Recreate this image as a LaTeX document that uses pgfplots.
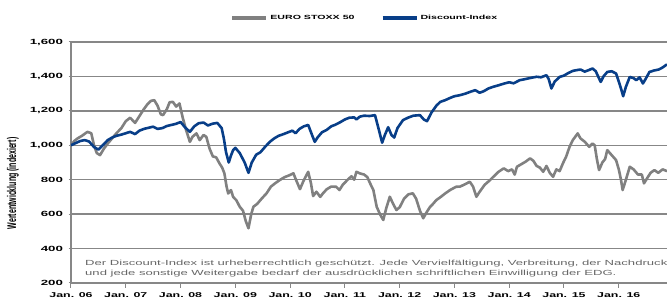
\documentclass[border=0pt]{standalone}
\usepackage{fontspec}
\setmainfont{Liberation Sans}[FakeStretch=1.77]
\newfontfamily\plainsans{Liberation Sans}
\usepackage{graphicx}
\usepackage{pgfplots}
\pgfplotsset{compat=1.18}
\definecolor{dblue}{RGB}{8,62,136}
\definecolor{sgray}{RGB}{128,128,128}
\definecolor{ggray}{RGB}{135,135,135}
\begin{document}
\begin{tikzpicture}
\useasboundingbox (-71pt,-24pt) rectangle (596pt,283pt);
\begin{axis}[
  at={(0pt,0pt)}, anchor=south west,
  scale only axis, width=596pt, height=241pt,
  xmin=2006, xmax=2016.88, ymin=200, ymax=1600,
  axis x line*=bottom, axis y line*=left,
  axis line style={ggray, line width=1.6pt},
  xtick={2006,...,2016},
  xticklabels={Jan. 06,Jan. 07,Jan. 08,Jan. 09,Jan. 10,Jan. 11,Jan. 12,Jan. 13,Jan. 14,Jan. 15,Jan. 16},
  ytick={200,400,...,1600},
  ymajorgrids, major grid style={ggray, line width=1.5pt},
  xtick align=outside, ytick align=center,
  major tick length=5pt,
  every tick/.style={ggray, line width=1pt},
  /pgf/number format/assume math mode=true,
  /pgf/number format/1000 sep={,},
  yticklabel style={font=\bfseries\fontsize{7.5}{8}\selectfont, anchor=east, xshift=-2pt},
  xticklabel style={font=\bfseries\fontsize{7}{8}\selectfont, anchor=north, yshift=-1pt},
  ylabel={\plainsans\bfseries\fontsize{7}{8}\selectfont\scalebox{1}[1.8]{Wertentwicklung (indexiert)}},
  ylabel style={at={(axis description cs:-0.0973,0.413)}, anchor=center},
  legend style={at={(axis description cs:0.493,1.0996)}, anchor=center, draw=none, fill=none,
    font=\bfseries\fontsize{6}{7}\selectfont, legend columns=2,
    /tikz/every even column/.append style={column sep=24pt}},
  legend image code/.code={\draw[#1, line width=4pt, line cap=butt] (0pt,0pt) -- (34pt,0pt);},
  clip=true,
]
\addplot[sgray, line width=2.6pt, line join=round] coordinates {
(2006.00,1000) (2006.06,1025) (2006.12,1040) (2006.20,1055) (2006.30,1078) (2006.37,1070)
(2006.42,1000) (2006.47,955) (2006.53,943) (2006.60,980) (2006.67,1010) (2006.75,1040)
(2006.83,1070) (2006.92,1100) (2007.00,1140) (2007.08,1160) (2007.17,1130) (2007.25,1170)
(2007.33,1210) (2007.40,1240) (2007.46,1258) (2007.52,1262) (2007.58,1230) (2007.64,1180)
(2007.68,1175) (2007.75,1210) (2007.80,1250) (2007.86,1252) (2007.92,1225) (2007.98,1243)
(2008.04,1160) (2008.10,1090) (2008.17,1020) (2008.22,1050) (2008.29,1069) (2008.35,1030)
(2008.42,1060) (2008.47,1049) (2008.53,980) (2008.59,935) (2008.65,930) (2008.71,895)
(2008.76,870) (2008.80,837) (2008.84,760) (2008.87,720) (2008.92,740) (2008.96,700)
(2009.02,680) (2009.08,643) (2009.14,620) (2009.19,560) (2009.24,518) (2009.29,600)
(2009.33,643) (2009.40,660) (2009.48,690) (2009.57,721) (2009.65,760) (2009.73,780)
(2009.81,798) (2009.90,815) (2009.98,825) (2010.06,837) (2010.12,790) (2010.18,745)
(2010.24,790) (2010.33,846) (2010.38,780) (2010.42,705) (2010.48,730) (2010.55,700)
(2010.60,721) (2010.67,745) (2010.75,760) (2010.84,759) (2010.90,740) (2010.96,770)
(2011.05,800) (2011.12,820) (2011.17,800) (2011.21,846) (2011.27,837) (2011.35,830)
(2011.41,815) (2011.46,779) (2011.52,740) (2011.58,643) (2011.64,600) (2011.70,566)
(2011.76,640) (2011.82,701) (2011.88,660) (2011.94,624) (2012.00,640) (2012.08,690)
(2012.16,715) (2012.24,721) (2012.30,690) (2012.37,620) (2012.43,576) (2012.49,610)
(2012.55,640) (2012.61,660) (2012.67,682) (2012.75,700) (2012.83,720) (2012.92,740)
(2013.03,759) (2013.10,760) (2013.17,770) (2013.28,788) (2013.34,760) (2013.40,701)
(2013.46,730) (2013.55,770) (2013.65,798) (2013.72,820) (2013.80,845) (2013.90,866)
(2013.98,850) (2014.05,860) (2014.10,830) (2014.14,875) (2014.22,890) (2014.30,905)
(2014.38,924) (2014.44,910) (2014.50,880) (2014.56,870) (2014.62,846) (2014.68,880)
(2014.74,840) (2014.80,817) (2014.86,860) (2014.92,850) (2014.98,895) (2015.04,935)
(2015.10,990) (2015.16,1030) (2015.25,1069) (2015.30,1040) (2015.38,1020) (2015.46,991)
(2015.52,1010) (2015.56,1000) (2015.60,920) (2015.64,856) (2015.70,900) (2015.75,920)
(2015.79,972) (2015.85,950) (2015.95,914) (2016.00,860) (2016.04,800) (2016.07,740)
(2016.12,790) (2016.20,875) (2016.27,860) (2016.35,830) (2016.42,830) (2016.46,779)
(2016.52,810) (2016.58,840) (2016.65,856) (2016.72,840) (2016.80,860) (2016.88,850)
};
\addlegendentry{EURO STOXX 50}
\addplot[dblue, line width=2.6pt, line join=round] coordinates {
(2006.00,1000) (2006.08,1012) (2006.17,1025) (2006.25,1030) (2006.33,1022) (2006.42,990)
(2006.50,975) (2006.58,1000) (2006.67,1030) (2006.75,1045) (2006.83,1055) (2006.92,1062)
(2007.00,1070) (2007.08,1078) (2007.17,1065) (2007.25,1085) (2007.33,1095) (2007.42,1102)
(2007.50,1108) (2007.58,1095) (2007.67,1100) (2007.75,1112) (2007.83,1118) (2007.92,1125)
(2008.00,1135) (2008.08,1105) (2008.17,1078) (2008.25,1110) (2008.33,1128) (2008.42,1132)
(2008.50,1115) (2008.58,1125) (2008.67,1130) (2008.75,1100) (2008.79,1040) (2008.83,960)
(2008.88,900) (2008.92,940) (2008.96,972) (2009.00,985) (2009.08,955) (2009.17,900)
(2009.24,840) (2009.30,900) (2009.38,945) (2009.46,960) (2009.54,990) (2009.63,1020)
(2009.71,1040) (2009.79,1055) (2009.88,1065) (2009.96,1075) (2010.04,1085) (2010.10,1070)
(2010.17,1095) (2010.25,1110) (2010.33,1118) (2010.40,1060) (2010.45,1020) (2010.50,1045)
(2010.58,1075) (2010.67,1090) (2010.75,1110) (2010.83,1120) (2010.92,1135) (2011.00,1150)
(2011.08,1160) (2011.17,1162) (2011.21,1150) (2011.27,1166) (2011.35,1172) (2011.45,1170)
(2011.55,1175) (2011.62,1090) (2011.68,1015) (2011.73,1060) (2011.79,1105) (2011.85,1060)
(2011.90,1045) (2011.96,1100) (2012.06,1146) (2012.15,1160) (2012.25,1172) (2012.37,1175)
(2012.44,1150) (2012.50,1140) (2012.58,1190) (2012.67,1230) (2012.74,1252) (2012.83,1262)
(2012.92,1275) (2013.00,1285) (2013.10,1291) (2013.20,1300) (2013.30,1312) (2013.38,1320)
(2013.46,1305) (2013.54,1315) (2013.62,1330) (2013.70,1339) (2013.80,1348) (2013.90,1358)
(2014.00,1366) (2014.08,1360) (2014.19,1378) (2014.30,1385) (2014.40,1392) (2014.50,1398)
(2014.58,1395) (2014.68,1407) (2014.72,1385) (2014.77,1330) (2014.83,1370) (2014.92,1397)
(2015.00,1405) (2015.08,1420) (2015.16,1432) (2015.22,1436) (2015.30,1440) (2015.38,1428)
(2015.46,1438) (2015.52,1446) (2015.58,1430) (2015.63,1395) (2015.67,1368) (2015.72,1400)
(2015.79,1426) (2015.87,1430) (2015.95,1417) (2016.00,1370) (2016.04,1330) (2016.08,1285)
(2016.13,1340) (2016.20,1397) (2016.27,1390) (2016.32,1378) (2016.38,1395) (2016.44,1359)
(2016.48,1380) (2016.56,1426) (2016.65,1435) (2016.73,1440) (2016.80,1452) (2016.88,1470)
};
\addlegendentry{Discount-Index}
\node[anchor=south west, align=left, inner sep=0pt, text=black!60,
  font=\fontsize{7.4}{9.8}\selectfont] at (rel axis cs:0.0235,0.025)
  {Der Discount-Index ist urheberrechtlich geschützt. Jede Vervielfältigung, Verbreitung, der Nachdruck\\
   und jede sonstige Weitergabe bedarf der ausdrücklichen schriftlichen Einwilligung der EDG.};
\end{axis}
\end{tikzpicture}
\end{document}
